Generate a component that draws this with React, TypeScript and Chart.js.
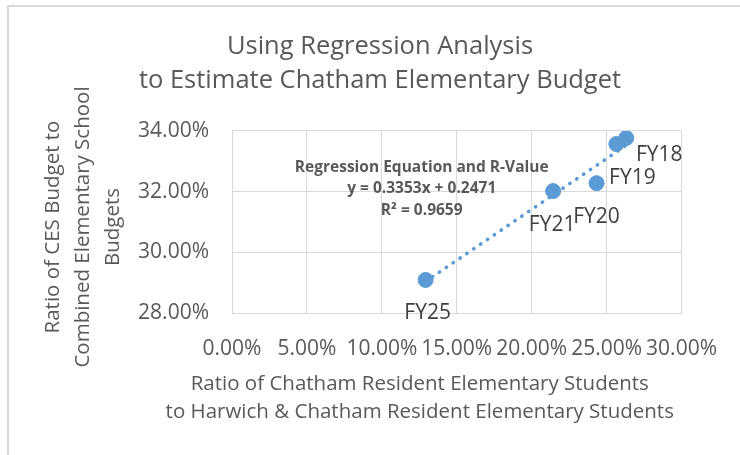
import React, { useEffect, useRef } from 'react';
import { Chart, registerables } from 'chart.js';

Chart.register(...registerables);

// ---- data ----
const pointLabels = ['FY18', 'FY19', 'FY20', 'FY21', 'FY25'];
const xValues = [26.31, 25.65, 24.33, 21.43, 12.92];
const yValues = [33.77, 33.57, 32.28, 32.02, 29.09];
const trendX = [12.92, 26.31];
const trendY = [29.04, 33.53];
const xTicks = [0, 5, 10, 15, 20, 25, 30];
const yTicks = [28, 30, 32, 34];
const titleLines = ['Using Regression Analysis', 'to Estimate Chatham Elementary Budget'];
const xTitleLines = ['Ratio of Chatham Resident Elementary Students', 'to Harwich & Chatham Resident Elementary Students'];
const yTitleLines = ['Ratio of CES Budget to', 'Combined Elementary School', 'Budgets'];
const equationLines = ['Regression Equation and R-Value', 'y = 0.3353x + 0.2471', 'R² = 0.9659'];
const equationAnchor = { x: 12.66, y: 32.09 };

// ---- styles ----
const FONT = '"Open Sans", sans-serif';
const TEXT = '#595959';
const LABEL = '#404040';
const GRID = '#d9d9d9';
const BLUE = '#5B9BD5';
const labelOffsets = [[33, 17], [16, 34], [0, 34], [-1, 34], [2, 33]];

const textPlugin = {
  id: 'extraText',
  afterDraw(chart: any) {
    const { ctx, chartArea, scales } = chart;
    ctx.save();
    ctx.textAlign = 'center';
    ctx.textBaseline = 'middle';

    // data labels
    ctx.fillStyle = LABEL;
    ctx.font = `21px ${FONT}`;
    const meta = chart.getDatasetMeta(0);
    meta.data.forEach((pt: any, i: number) => {
      const [dx, dy] = labelOffsets[i];
      ctx.fillText(pointLabels[i], pt.x + dx, pt.y + dy);
    });

    // equation
    ctx.fillStyle = TEXT;
    ctx.font = `bold 15.5px ${FONT}`;
    const ex = scales.x.getPixelForValue(equationAnchor.x);
    const ey = scales.y.getPixelForValue(equationAnchor.y);
    equationLines.forEach((t, i) => ctx.fillText(t, ex, ey + (i - 1) * 21.5));

    // x axis title
    ctx.font = `20.5px ${FONT}`;
    const cx = (chartArea.left + chartArea.right) / 2 - 37;
    xTitleLines.forEach((t, i) => ctx.fillText(t, cx, chartArea.bottom + 71 + i * 28));

    // y axis title
    ctx.translate(chartArea.left - 179, (chartArea.top + chartArea.bottom) / 2 + 5);
    ctx.rotate(-Math.PI / 2);
    yTitleLines.forEach((t, i) => ctx.fillText(t, 0, i * 30));
    ctx.restore();
  },
};

export default function App() {
  const ref = useRef<HTMLCanvasElement>(null);
  useEffect(() => {
    const canvas = ref.current!;
    const chart = new Chart(canvas, {
      type: 'scatter',
      data: {
        datasets: [
          {
            label: 'Budget ratio',
            data: xValues.map((x, i) => ({ x, y: yValues[i] })),
            backgroundColor: BLUE,
            borderColor: BLUE,
            pointRadius: 7.5,
            pointHoverRadius: 7.5,
            order: 1,
          },
          {
            type: 'line',
            label: 'Linear trendline',
            data: trendX.map((x, i) => ({ x, y: trendY[i] })),
            showLine: true,
            borderColor: BLUE,
            borderWidth: 3.6,
            borderDash: [0.3, 8],
            borderCapStyle: 'round',
            pointRadius: 0,
            fill: false,
            order: 0,
          } as any,
        ],
      },
      options: {
        responsive: false,
        animation: false,
        devicePixelRatio: 1,
        layout: { padding: { left: 74, right: 54, top: 0, bottom: 0 } },
        plugins: {
          legend: { display: false },
          tooltip: { enabled: false },
          title: {
            display: true,
            text: titleLines,
            color: TEXT,
            font: { family: FONT, size: 25.5, weight: 'normal', lineHeight: 1.333 },
            padding: { top: 30, bottom: 33 },
          },
        },
        scales: {
          x: {
            type: 'linear',
            min: 0,
            max: 30,
            afterBuildTicks: (s: any) => { s.ticks = xTicks.map((v) => ({ value: v })); },
            afterFit: (s: any) => { s.height = 142; },
            grid: { color: GRID, lineWidth: 1, drawTicks: false },
            border: { display: true, color: GRID },
            ticks: {
              color: TEXT,
              font: { family: FONT, size: 21 },
              padding: 23,
              maxRotation: 0,
              minRotation: 0,
              autoSkip: false,
              callback: (v: any) => Number(v).toFixed(2) + '%',
            },
          },
          y: {
            type: 'linear',
            min: 28,
            max: 34,
            afterBuildTicks: (s: any) => { s.ticks = yTicks.map((v) => ({ value: v })); },
            afterFit: (s: any) => { s.width = 158; },
            grid: { color: GRID, lineWidth: 1, drawTicks: false },
            border: { display: true, color: GRID },
            ticks: {
              color: TEXT,
              font: { family: FONT, size: 21 },
              padding: 23,
              callback: (v: any) => Number(v).toFixed(2) + '%',
            },
          },
        },
      },
      plugins: [textPlugin],
    });
    return () => chart.destroy();
  }, []);

  return (
    <div style={{ position: 'fixed', left: 0, top: 0, width: 740, height: 455, overflow: 'hidden', background: '#fff' }}>
      <div style={{ position: 'absolute', left: 7, top: 5, width: 800, height: 500, border: '2px solid #d9d9d9' }} />
      <canvas ref={ref} width={740} height={455} style={{ position: 'absolute', left: 0, top: 0, width: 740, height: 455 }} />
    </div>
  );
}
